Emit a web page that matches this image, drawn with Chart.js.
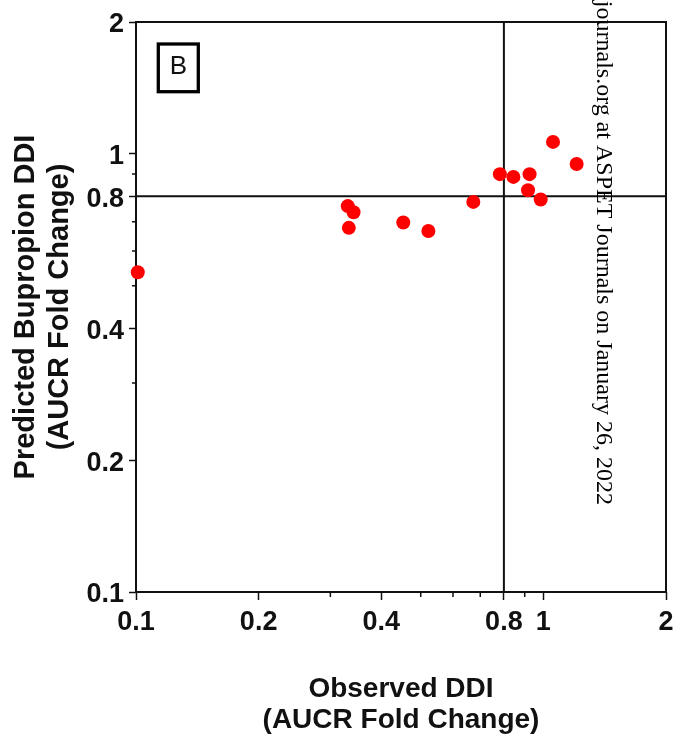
<!DOCTYPE html>
<html>
<head>
<meta charset="utf-8">
<script src="https://cdn.jsdelivr.net/npm/chart.js@4.4.0/dist/chart.umd.min.js"></script>
<style>
  body { margin: 0; background: #fff; }
</style>
</head>
<body>
<canvas id="chart-ddi" width="677" height="744"></canvas>
<script>
// observed vs predicted AUCR
const observedDDI  = [0.101, 0.331, 0.342, 0.333, 0.453, 0.522, 0.673, 0.782, 0.844, 0.925, 0.917, 0.985, 1.056, 1.207];
const predictedDDI = [0.537, 0.760, 0.736, 0.678, 0.697, 0.667, 0.777, 0.899, 0.886, 0.899, 0.826, 0.787, 1.065, 0.948];

const tickValues   = [0.1, 0.2, 0.3, 0.4, 0.5, 0.6, 0.7, 0.8, 0.9, 1, 2];
const labeledTicks = [0.1, 0.2, 0.4, 0.8, 1, 2];
const axisMin = 0.1;
const axisMax = 2;
const refX = 0.8;
const refY = 0.8;

const xTitle = ['Observed DDI', '(AUCR Fold Change)'];
const yTitle = ['Predicted Bupropion DDI', '(AUCR Fold Change)'];
const panelLabel = 'B';
const watermark = 'journals.org at ASPET Journals on January 26, 2022';

const FONT = "'Liberation Sans', Arial, sans-serif";

// frame, reference lines, minor ticks
const framePlugin = {
    id: 'frame',
    beforeDatasetsDraw(chart) {
        const { ctx, chartArea: a, scales: { x, y } } = chart;
        ctx.save();
        ctx.strokeStyle = '#111';
        ctx.lineWidth = 2;
        ctx.strokeRect(a.left, a.top, a.right - a.left, a.bottom - a.top);

        const px = x.getPixelForValue(refX);
        const py = y.getPixelForValue(refY);
        ctx.beginPath();
        ctx.moveTo(px, a.top);
        ctx.lineTo(px, a.bottom);
        ctx.moveTo(a.left, py);
        ctx.lineTo(a.right, py);
        ctx.stroke();

        // short minor ticks
        ctx.lineWidth = 1.5;
        ctx.beginPath();
        tickValues.forEach(v => {
            if (labeledTicks.includes(v)) return;
            const tx = x.getPixelForValue(v);
            ctx.moveTo(tx, a.bottom);
            ctx.lineTo(tx, a.bottom + 5);
            const ty = y.getPixelForValue(v);
            ctx.moveTo(a.left, ty);
            ctx.lineTo(a.left - 4, ty);
        });
        ctx.stroke();
        ctx.restore();
    },
    afterDraw(chart) {
        const { ctx } = chart;
        ctx.save();
        // panel label box
        ctx.strokeStyle = '#000';
        ctx.lineWidth = 3.3;
        ctx.strokeRect(158.3, 44, 40, 47.7);
        ctx.fillStyle = '#111';
        ctx.font = '26px ' + FONT;
        ctx.textAlign = 'center';
        ctx.textBaseline = 'middle';
        ctx.fillText(panelLabel, 178.5, 67);

        // rotated watermark
        ctx.translate(597, 505);
        ctx.rotate(Math.PI / 2);
        ctx.font = "24px 'Liberation Serif', 'Times New Roman', serif";
        ctx.textAlign = 'right';
        ctx.textBaseline = 'alphabetic';
        ctx.fillStyle = '#000';
        ctx.fillText(watermark, 0, 0);
        ctx.restore();
    }
};

const setTicks = (axis) => {
    axis.ticks = tickValues.map(v => ({ value: v }));
};
const tickLabel = (value) => labeledTicks.includes(value) ? String(value) : '';
const tickColor = (c) => (c.tick && labeledTicks.includes(c.tick.value)) ? '#111' : 'rgba(0,0,0,0)';

new Chart(document.getElementById('chart-ddi'), {
    type: 'scatter',
    data: {
        datasets: [{
            data: observedDDI.map((v, i) => ({ x: v, y: predictedDDI[i] })),
            backgroundColor: '#ff0000',
            borderWidth: 0,
            pointRadius: 7,
            clip: false
        }]
    },
    options: {
        responsive: false,
        animation: false,
        layout: { padding: { top: 22, right: 11, left: 0, bottom: 0 } },
        plugins: {
            legend: { display: false },
            tooltip: { enabled: false }
        },
        scales: {
            x: {
                type: 'logarithmic',
                min: axisMin,
                max: axisMax,
                afterBuildTicks: setTicks,
                afterFit: (s) => { s.height = 152; s.paddingLeft = 0; s.paddingRight = 0; },
                border: { display: false },
                grid: {
                    drawOnChartArea: false,
                    drawTicks: true,
                    tickLength: 8,
                    tickWidth: 1.5,
                    tickColor: tickColor
                },
                ticks: {
                    autoSkip: false,
                    maxRotation: 0,
                    padding: 6,
                    color: '#111',
                    font: { family: FONT, size: 27, weight: 'bold' },
                    callback: tickLabel
                },
                title: {
                    display: true,
                    text: xTitle,
                    color: '#111',
                    font: { family: FONT, size: 28, weight: 'bold', lineHeight: 1.107 },
                    padding: { top: 0, bottom: 8.5 }
                }
            },
            y: {
                type: 'logarithmic',
                min: axisMin,
                max: axisMax,
                afterBuildTicks: setTicks,
                afterFit: (s) => { s.width = 136; s.paddingTop = 0; s.paddingBottom = 0; },
                border: { display: false },
                grid: {
                    drawOnChartArea: false,
                    drawTicks: true,
                    tickLength: 7,
                    tickWidth: 1.5,
                    tickColor: tickColor
                },
                ticks: {
                    autoSkip: false,
                    padding: 5,
                    labelOffset: 3,
                    color: '#111',
                    font: { family: FONT, size: 27, weight: 'bold' },
                    callback: tickLabel
                },
                title: {
                    display: true,
                    text: yTitle,
                    color: '#111',
                    font: { family: FONT, size: 29, weight: 'bold', lineHeight: 1.17 },
                    padding: { top: 9, bottom: 0 }
                }
            }
        }
    },
    plugins: [framePlugin]
});
</script>
</body>
</html>
